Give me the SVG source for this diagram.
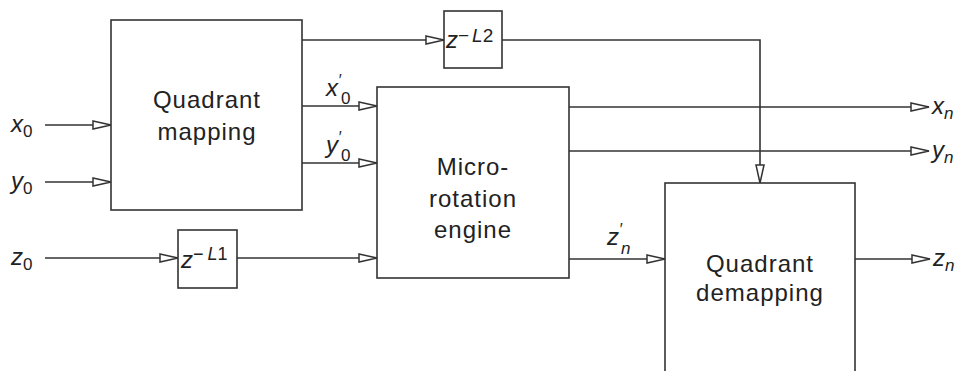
<svg xmlns="http://www.w3.org/2000/svg" width="964" height="371" viewBox="0 0 964 371">
<style>
.box{fill:#fff;stroke:#333;stroke-width:1.6}
.ln{fill:none;stroke:#333;stroke-width:1.6;marker-end:url(#arr)}
.t{font-family:"Liberation Sans",Arial,sans-serif;font-size:24px;fill:#222;text-anchor:middle;letter-spacing:1px}
.v{font-family:"Liberation Sans",Arial,sans-serif;font-size:24px;font-style:italic;fill:#222}
.p{font-family:"Liberation Sans",Arial,sans-serif;font-size:16px;font-style:italic;fill:#222}
.s{font-size:17px;font-style:normal}
.si{font-size:17px}
</style>
<defs>
<marker id="arr" markerUnits="userSpaceOnUse" markerWidth="22" markerHeight="12" refX="19" refY="5" orient="auto" viewBox="0 0 22 12">
<path d="M1,1 L19,5 L1,9 Z" fill="#fff" stroke="#333" stroke-width="1.5"/>
</marker>
</defs>
<g id="connectors">
<line class="ln" x1="45" y1="125" x2="111" y2="125"/>
<line class="ln" x1="45" y1="182" x2="111" y2="182"/>
<line class="ln" x1="45" y1="258" x2="178" y2="258"/>
<line class="ln" x1="237" y1="258" x2="377" y2="258"/>
<line class="ln" x1="302" y1="40" x2="444" y2="40"/>
<line class="ln" x1="302" y1="106" x2="377" y2="106"/>
<line class="ln" x1="302" y1="163" x2="377" y2="163"/>
<polyline class="ln" points="502,40 760,40 760,183"/>
<line class="ln" x1="569" y1="107" x2="929" y2="107"/>
<line class="ln" x1="569" y1="151" x2="929" y2="151"/>
<line class="ln" x1="569" y1="259" x2="665" y2="259"/>
<line class="ln" x1="855" y1="259" x2="930" y2="259"/>
</g>
<g id="quadrant-mapping">
<rect class="box" x="111" y="20" width="191" height="190"/>
<text class="t" x="207" y="108">Quadrant</text>
<text class="t" x="207" y="140">mapping</text>
</g>
<g id="delay-L2">
<rect class="box" x="444" y="11" width="58" height="57"/>
<text class="v" x="446" y="48">z<tspan font-size="19" dy="-6" font-style="normal">−</tspan><tspan font-size="19" dx="3">L</tspan><tspan font-size="19" font-style="normal">2</tspan></text>
</g>
<g id="micro-rotation">
<rect class="box" x="377" y="87" width="192" height="191"/>
<text class="t" x="473" y="175">Micro-</text>
<text class="t" x="473" y="207">rotation</text>
<text class="t" x="473" y="238">engine</text>
</g>
<g id="delay-L1">
<rect class="box" x="178" y="230" width="59" height="58"/>
<text class="v" x="181" y="268">z<tspan font-size="18" dy="-8" font-style="normal">−</tspan><tspan font-size="18" dx="4">L</tspan><tspan font-size="18" font-style="normal">1</tspan></text>
</g>
<g id="quadrant-demapping">
<rect class="box" x="665" y="183" width="190" height="200"/>
<text class="t" x="760" y="272">Quadrant</text>
<text class="t" x="760" y="301">demapping</text>
</g>
<g id="labels">
<text class="v" x="11" y="132">x<tspan class="s" dy="5">0</tspan></text>
<text class="v" x="11" y="189">y<tspan class="s" dy="5">0</tspan></text>
<text class="v" x="11" y="265">z<tspan class="s" dy="5">0</tspan></text>
<text class="v" x="326" y="96">x</text><text class="p" x="338" y="86">′</text><text class="v" x="341" y="104"><tspan class="s">0</tspan></text>
<text class="v" x="326" y="153">y</text><text class="p" x="338" y="143">′</text><text class="v" x="341" y="161"><tspan class="s">0</tspan></text>
<text class="v" x="607" y="245">z</text><text class="p" x="619" y="235">′</text><text class="v" x="621" y="254"><tspan class="si">n</tspan></text>
<text class="v" x="932" y="114">x<tspan class="si" dy="5">n</tspan></text>
<text class="v" x="932" y="158">y<tspan class="si" dy="5">n</tspan></text>
<text class="v" x="933" y="266">z<tspan class="si" dy="5">n</tspan></text>
</g>
</svg>
